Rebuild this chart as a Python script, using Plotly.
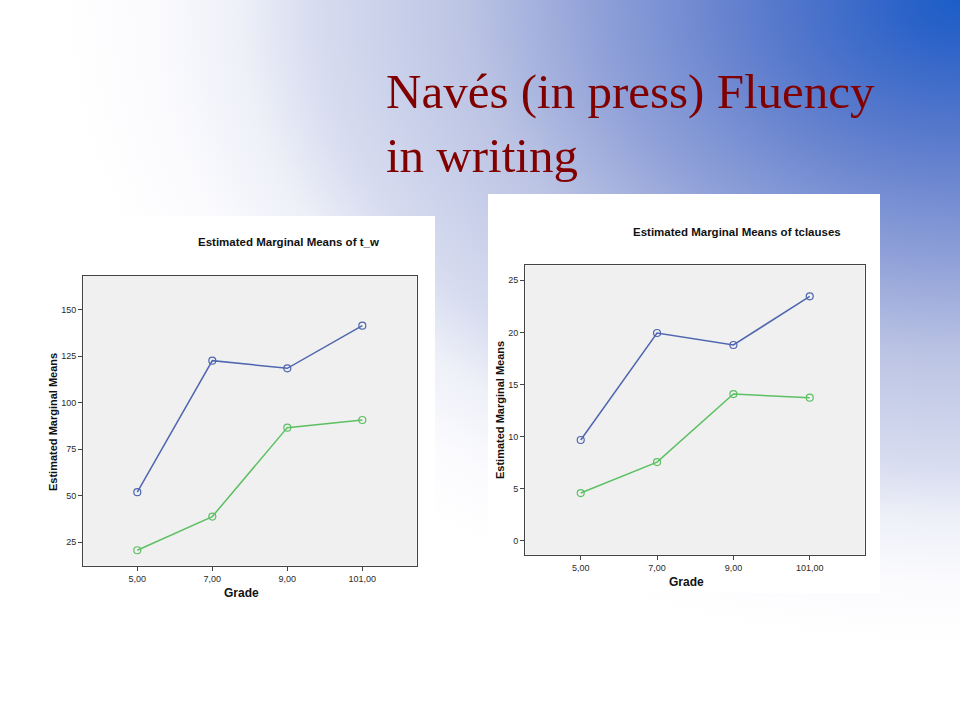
import base64
import plotly.graph_objects as go

# ---------------- data ----------------
grades = ["5,00", "7,00", "9,00", "101,00"]
tw_series1 = [51.9, 122.6, 118.5, 141.4]
tw_series2 = [20.7, 38.8, 86.6, 90.7]
tc_series1 = [9.67, 19.94, 18.79, 23.46]
tc_series2 = [4.58, 7.55, 14.08, 13.73]
tw_ticks = [25, 50, 75, 100, 125, 150]
tc_ticks = [0, 5, 10, 15, 20, 25]

W, H = 960, 720
BLUE = "#4f66b0"
GREEN = "#5cc063"


def px(x):
    return x / W


def py(y):
    return 1 - y / H


# ---------------- background gradient (SVG data URI) ----------------
stops = [(0.0, "#1a5ec8"), (0.057, "#2a62c8"), (0.216, "#5a7acc"), (0.4, "#8fa0d8"),
         (0.548, "#bcc4e4"), (0.723, "#d8ddf0"), (0.8, "#eef0f8"), (0.9, "#fbfbfe"),
         (1.0, "#ffffff")]
stop_xml = "".join(f"<stop offset='{o}' stop-color='{c}'/>" for o, c in stops)
svg = (f"<svg xmlns='http://www.w3.org/2000/svg' width='{W}' height='{H}' viewBox='0 0 {W} {H}' "
       f"preserveAspectRatio='none'><defs><radialGradient id='g' gradientUnits='userSpaceOnUse' "
       f"cx='960' cy='0' r='900' fx='960' fy='0' "
       f"gradientTransform='translate(960 0) scale(1 0.72) translate(-960 0)'>{stop_xml}"
       f"</radialGradient></defs>"
       f"<rect width='{W}' height='{H}' fill='url(#g)'/></svg>")
bg_src = "data:image/svg+xml;base64," + base64.b64encode(svg.encode()).decode()

fig = go.Figure()


def add_series(xa, ya, vals, color):
    fig.add_trace(go.Scatter(
        x=grades, y=vals, xaxis=xa, yaxis=ya, mode="lines+markers",
        line=dict(color=color, width=1.5),
        marker=dict(symbol="circle-open", size=7, color=color, line=dict(width=1.2)),
        showlegend=False, hoverinfo="skip"))


add_series("x", "y", tw_series1, BLUE)
add_series("x", "y", tw_series2, GREEN)
add_series("x2", "y2", tc_series1, BLUE)
add_series("x2", "y2", tc_series2, GREEN)

axis_common = dict(showgrid=False, zeroline=False, showline=True, mirror=True,
                   linecolor="#444444", linewidth=1.4, ticks="outside", ticklen=4,
                   tickcolor="#444444", tickwidth=1,
                   tickfont=dict(family="Liberation Sans, Arial, sans-serif", size=9, color="#2a2a2a"))

PLOT_BG = "#f0f0f0"
left_dom_x = [px(83.3), px(416.7)]
left_dom_y = [py(565.7), py(276)]
right_dom_x = [px(525.3), px(864.7)]
right_dom_y = [py(554.7), py(265.3)]

fig.update_layout(
    width=W, height=H, margin=dict(l=0, r=0, t=0, b=0),
    paper_bgcolor="white", plot_bgcolor=PLOT_BG,
    xaxis=dict(domain=left_dom_x, anchor="y", type="category",
               range=[-0.72, 3.725], **axis_common),
    yaxis=dict(domain=left_dom_y, anchor="x", range=[12.4, 168.1],
               tickvals=tw_ticks, **axis_common),
    xaxis2=dict(domain=right_dom_x, anchor="y2", type="category",
                range=[-0.726, 3.72], **axis_common),
    yaxis2=dict(domain=right_dom_y, anchor="x2", range=[-1.34, 26.44],
                tickvals=tc_ticks, **axis_common),
    images=[dict(source=bg_src, xref="paper", yref="paper", x=0, y=1, sizex=1, sizey=1,
                 xanchor="left", yanchor="top", sizing="stretch", layer="below")],
    shapes=[
        dict(type="rect", xref="paper", yref="paper", x0=px(40), x1=px(435), y0=py(604), y1=py(216),
             fillcolor="white", line=dict(width=0), layer="below"),
        dict(type="rect", xref="paper", yref="paper", x0=px(488), x1=px(880), y0=py(593), y1=py(194),
             fillcolor="white", line=dict(width=0), layer="below"),
        dict(type="rect", xref="paper", yref="paper", x0=left_dom_x[0], x1=left_dom_x[1],
             y0=left_dom_y[0], y1=left_dom_y[1], fillcolor=PLOT_BG, line=dict(width=0), layer="below"),
        dict(type="rect", xref="paper", yref="paper", x0=right_dom_x[0], x1=right_dom_x[1],
             y0=right_dom_y[0], y1=right_dom_y[1], fillcolor=PLOT_BG, line=dict(width=0), layer="below"),
    ],
)

sans = "Liberation Sans, Arial, sans-serif"
annos = [
    dict(text="Navés (in press) Fluency<br>in writing", x=px(384), y=py(62), xanchor="left",
         yanchor="top", align="left",
         font=dict(family="Liberation Serif, Times New Roman, serif", size=49, color="#800000")),
    dict(text="<b>Estimated Marginal Means of t_w</b>", x=px(288.7), y=py(242),
         font=dict(family=sans, size=11.5, color="#111")),
    dict(text="<b>Estimated Marginal Means of tclauses</b>", x=px(736.5), y=py(232),
         font=dict(family=sans, size=11.5, color="#111")),
    dict(text="<b>Estimated Marginal Means</b>", x=px(53), y=py(422), textangle=-90,
         font=dict(family=sans, size=11, color="#111")),
    dict(text="<b>Estimated Marginal Means</b>", x=px(500), y=py(410), textangle=-90,
         font=dict(family=sans, size=11, color="#111")),
    dict(text="<b>Grade</b>", x=px(241), y=py(593), font=dict(family=sans, size=12, color="#111")),
    dict(text="<b>Grade</b>", x=px(686), y=py(582), font=dict(family=sans, size=12, color="#111")),
]
for a in annos:
    a.setdefault("xanchor", "center")
    a.setdefault("yanchor", "middle")
    fig.add_annotation(xref="paper", yref="paper", showarrow=False, **a)

fig.write_html("out.html", config={"displayModeBar": False},
               post_script="document.body.style.margin='0';document.body.style.overflow='hidden';")
